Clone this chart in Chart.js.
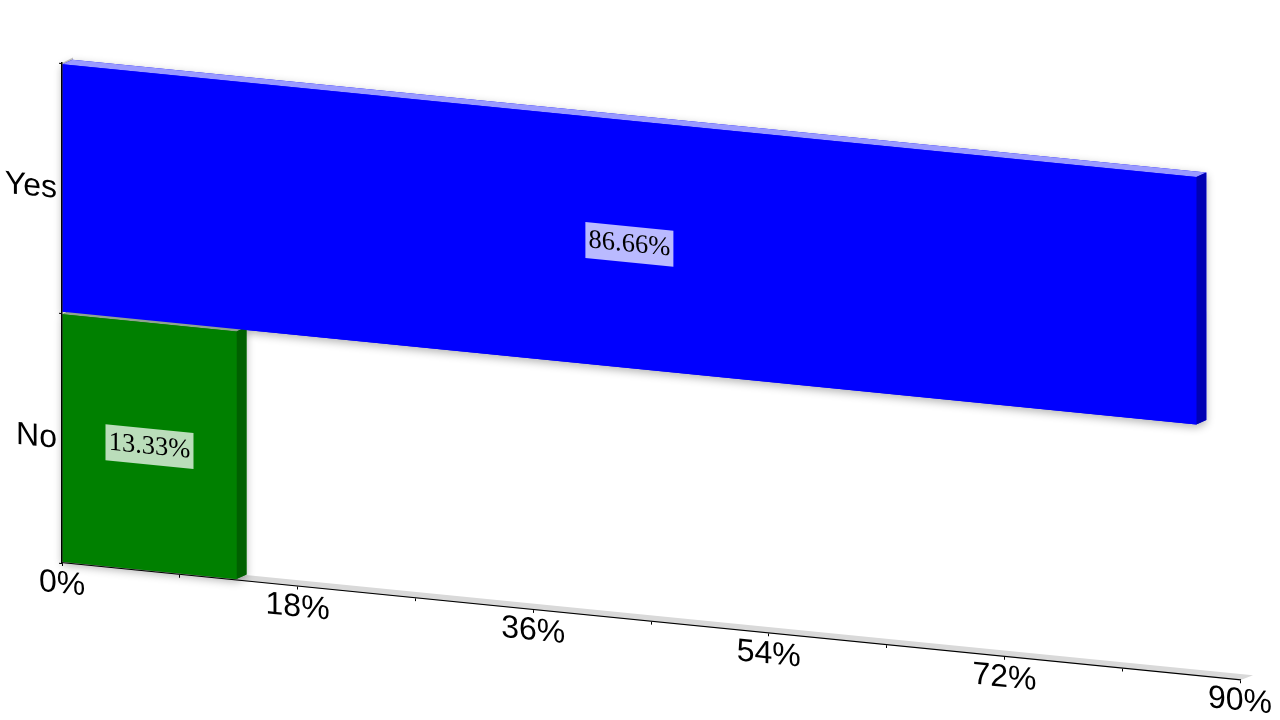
<!DOCTYPE html>
<html>
<head>
<meta charset="utf-8">
<title>Yes / No</title>
<script src="https://cdn.jsdelivr.net/npm/chart.js@4"></script>
<style>
html, body { margin: 0; padding: 0; background: #fff; }
#wrap { width: 1280px; height: 720px; }
</style>
</head>
<body>
<div id="wrap"><canvas id="chart" width="1280" height="720"></canvas></div>
<script>
var categories = ['No', 'Yes'];
var percents = [13.33, 86.66];
var barColors = ['#008000', '#0000ff'];
var sideColors = ['#006000', '#0000b3'];
var topColors = ['#8fa38f', '#9999ff'];
var axisMax = 90;
var tickStep = 9;
var labelEvery = 18;

// look of the 3d chart: everything is sheared down to the right and
// the bars get a depth face
var SKEW = 0.0995;
var DEPTH_X = 10;
var DEPTH_Y = -5.6;
var FLOOR_X = 13;
var FLOOR_Y = -6.3;

function poly(ctx, pts, color) {
    ctx.fillStyle = color;
    ctx.beginPath();
    ctx.moveTo(pts[0][0], pts[0][1]);
    for (var i = 1; i < pts.length; i++) {
        ctx.lineTo(pts[i][0], pts[i][1]);
    }
    ctx.closePath();
    ctx.fill();
}

function softShadow(ctx, alpha) {
    ctx.shadowColor = 'rgba(0,0,0,' + alpha + ')';
    ctx.shadowBlur = 8;
    ctx.shadowOffsetY = 3;
}

var shearPlugin = {
    id: 'shear',
    beforeDraw: function(chart) {
        var ctx = chart.ctx, a = chart.chartArea;
        ctx.save();
        ctx.transform(1, SKEW, 0, 1, 0, -SKEW * a.left);
        // faint shadow along the axes
        ctx.save();
        softShadow(ctx, 0.2);
        ctx.shadowOffsetY = 0;
        ctx.fillStyle = '#000';
        ctx.fillRect(a.left - 1, a.top + 2, 1, a.height - 2);
        ctx.restore();
        // floor and the top of the back wall
        poly(ctx, [[a.left, a.bottom], [a.right, a.bottom], [a.right + FLOOR_X, a.bottom + FLOOR_Y],
                   [a.left + FLOOR_X, a.bottom + FLOOR_Y]], '#d9d9d9');
        poly(ctx, [[a.left, a.top], [a.left + DEPTH_X + 1, a.top + DEPTH_Y - 1], [a.left + DEPTH_X + 1, a.top + DEPTH_Y + 3],
                   [a.left, a.top + 1]], '#c4c4c4');
    },
    afterDraw: function(chart) {
        chart.ctx.restore();
    }
};

var depthPlugin = {
    id: 'depth',
    beforeDatasetDraw: function(chart, args) {
        var ctx = chart.ctx;
        var boxes = args.meta.data.map(function(bar) {
            var p = bar.getProps(['x', 'y', 'base', 'height']);
            return { left: p.base, right: p.x, top: p.y - p.height / 2, bottom: p.y + p.height / 2 };
        });
        // shadows first so they never fall on the bars' own faces
        ctx.save();
        softShadow(ctx, 0.3);
        boxes.forEach(function(b, i) {
            poly(ctx, [[b.left, b.top], [b.left + DEPTH_X, b.top + DEPTH_Y], [b.right + DEPTH_X, b.top + DEPTH_Y],
                       [b.right + DEPTH_X, b.bottom + DEPTH_Y], [b.right, b.bottom], [b.left, b.bottom]], barColors[i]);
        });
        ctx.restore();
        boxes.forEach(function(b, i) {
            poly(ctx, [[b.left, b.top], [b.right, b.top], [b.right + DEPTH_X, b.top + DEPTH_Y], [b.left + DEPTH_X, b.top + DEPTH_Y]], topColors[i]);
            poly(ctx, [[b.right, b.top], [b.right + DEPTH_X, b.top + DEPTH_Y], [b.right + DEPTH_X, b.bottom + DEPTH_Y], [b.right, b.bottom]], sideColors[i]);
        });
    },
    afterDatasetDraw: function(chart, args) {
        var ctx = chart.ctx;
        // value labels on a pale box
        args.meta.data.forEach(function(bar, i) {
            var p = bar.getProps(['x', 'y', 'base']);
            var cx = (p.x + p.base) / 2;
            ctx.fillStyle = 'rgba(255,255,255,0.73)';
            ctx.fillRect(cx - 44, p.y - 18, 88, 36);
            ctx.fillStyle = '#000';
            ctx.font = '26.5px "Liberation Serif"';
            ctx.textAlign = 'center';
            ctx.textBaseline = 'middle';
            ctx.fillText(percents[i].toFixed(2) + '%', cx, p.y);
        });
    }
};

new Chart(document.getElementById('chart'), {
    type: 'bar',
    data: {
        labels: categories,
        datasets: [{
            data: percents,
            backgroundColor: barColors,
            borderWidth: 0,
            barPercentage: 0.99,
            categoryPercentage: 1,
            clip: false
        }]
    },
    options: {
        indexAxis: 'y',
        responsive: false,
        animation: false,
        layout: { padding: { left: 0, right: 40, top: 63, bottom: 0 } },
        plugins: { legend: { display: false }, tooltip: { enabled: false } },
        scales: {
            x: {
                min: 0,
                max: axisMax,
                afterFit: function(scale) { scale.height = 157; },
                border: { color: '#000', width: 1.2, z: 1 },
                grid: { drawOnChartArea: false, color: '#000', tickLength: 3, z: 1 },
                ticks: {
                    stepSize: tickStep,
                    autoSkip: false,
                    maxRotation: 0,
                    padding: -1,
                    color: '#000',
                    font: { family: '"Liberation Sans"', size: 32 },
                    callback: function(value) {
                        return value % labelEvery === 0 ? value + '%' : '';
                    }
                }
            },
            y: {
                reverse: true,
                afterFit: function(scale) { scale.width = 62; },
                border: { color: '#000', width: 1.5, z: 1 },
                grid: { drawOnChartArea: false, offset: true, color: '#000', tickLength: 3, z: 1 },
                ticks: {
                    padding: 2,
                    labelOffset: 1.5,
                    color: '#000',
                    font: { family: '"Liberation Sans"', size: 32 }
                }
            }
        }
    },
    plugins: [shearPlugin, depthPlugin]
});
</script>
</body>
</html>
